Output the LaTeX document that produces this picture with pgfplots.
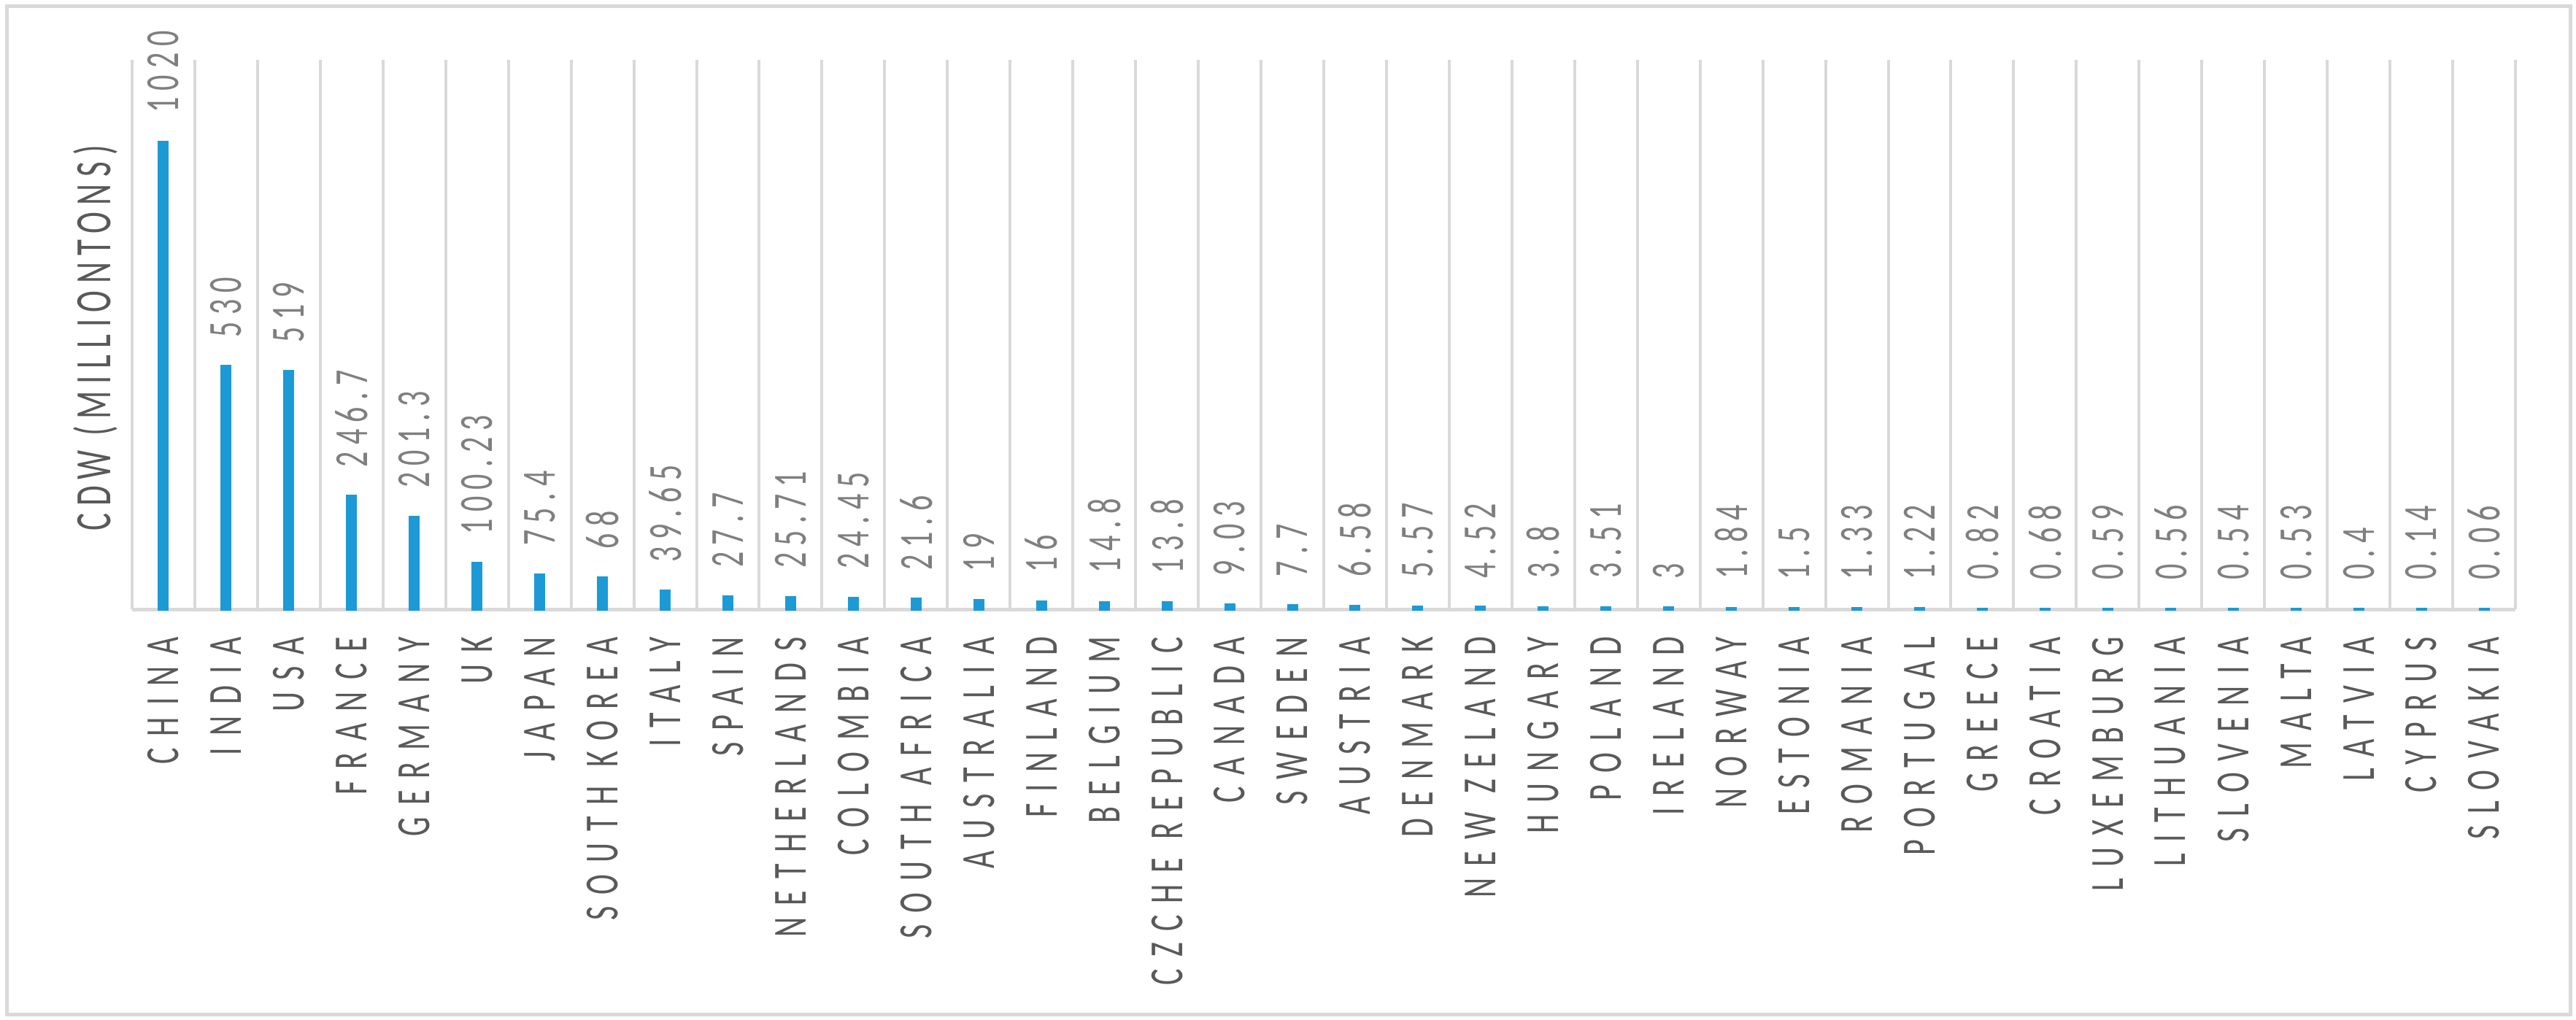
\documentclass[border=0pt]{standalone}
\usepackage{pgfplots}
\pgfplotsset{compat=1.18}
\usepackage{fontspec}
\setmainfont{Carlito}
\newfontfamily\catfont{Carlito}[LetterSpace=38]
\newfontfamily\datfont{Carlito}[LetterSpace=22]
\newfontfamily\labfont{Carlito}[LetterSpace=21]
\definecolor{barblue}{HTML}{1C9AD6}
\definecolor{gridgray}{HTML}{D9D9D9}
\definecolor{txtgray}{HTML}{595959}
\definecolor{numgray}{HTML}{7F7F7F}
% the source picture is stretched sideways, so rotated text looks tall
\newcommand\lb[1]{\scalebox{1}[1.55]{#1}}

\begin{document}
\begin{tikzpicture}
\useasboundingbox (-36.2pt,-112.4pt) rectangle (669.8pt,167pt);
\draw[gridgray, line width=1pt] (-34.2pt,-111pt) rectangle (668.2pt,165.4pt);
\begin{axis}[
  scale only axis,
  width=653.2pt, height=150.6pt,
  xmin=-0.5, xmax=37.5,
  ymin=0, ymax=1200,
  clip=false,
  axis x line*=bottom,
  axis y line=none,
  x axis line style={draw=gridgray, line width=1pt, -},
  ytick=\empty,
  xtick={0,...,37},
  xticklabels={\lb{CHINA},\lb{INDIA},\lb{USA},\lb{FRANCE},\lb{GERMANY},\lb{UK},\lb{JAPAN},
    \lb{SOUTH KOREA},\lb{ITALY},\lb{SPAIN},\lb{NETHERLANDS},\lb{COLOMBIA},\lb{SOUTH AFRICA},
    \lb{AUSTRALIA},\lb{FINLAND},\lb{BELGIUM},\lb{CZCHE REPUBLIC},\lb{CANADA},\lb{SWEDEN},
    \lb{AUSTRIA},\lb{DENMARK},\lb{NEW ZELAND},\lb{HUNGARY},\lb{POLAND},\lb{IRELAND},
    \lb{NORWAY},\lb{ESTONIA},\lb{ROMANIA},\lb{PORTUGAL},\lb{GREECE},\lb{CROATIA},
    \lb{LUXEMBURG},\lb{LITHUANIA},\lb{SLOVENIA},\lb{MALTA},\lb{LATVIA},\lb{CYPRUS},\lb{SLOVAKIA}},
  major tick length=0pt,
  minor tick length=0pt,
  minor xtick={-0.5,0.5,...,37.5},
  xminorgrids=true,
  minor grid style={draw=gridgray, line width=0.8pt},
  xticklabel style={font=\catfont\fontsize{8.4}{10}\selectfont, text=txtgray,
    rotate=90, anchor=east, inner sep=0pt},
  xticklabel shift=7.4pt,
  ybar, bar width=2.2pt,
  point meta=explicit symbolic,
  nodes near coords={\lb{\pgfplotspointmeta}},
  every node near coord/.append style={font=\datfont\fontsize{8.4}{10}\selectfont,
    text=numgray, rotate=90, anchor=west, inner xsep=7.6pt, inner ysep=0pt},
]
\addplot[draw=barblue, fill=barblue, line width=0.8pt] coordinates {
  (0,1020) [1020]
  (1,530) [530]
  (2,519) [519]
  (3,246.7) [246.7]
  (4,201.3) [201.3]
  (5,100.23) [100.23]
  (6,75.4) [75.4]
  (7,68) [68]
  (8,39.65) [39.65]
  (9,27.7) [27.7]
  (10,25.71) [25.71]
  (11,24.45) [24.45]
  (12,21.6) [21.6]
  (13,19) [19]
  (14,16) [16]
  (15,14.8) [14.8]
  (16,13.8) [13.8]
  (17,9.03) [9.03]
  (18,7.7) [7.7]
  (19,6.58) [6.58]
  (20,5.57) [5.57]
  (21,4.52) [4.52]
  (22,3.8) [3.8]
  (23,3.51) [3.51]
  (24,3) [3]
  (25,1.84) [1.84]
  (26,1.5) [1.5]
  (27,1.33) [1.33]
  (28,1.22) [1.22]
  (29,0.82) [0.82]
  (30,0.68) [0.68]
  (31,0.59) [0.59]
  (32,0.56) [0.56]
  (33,0.54) [0.54]
  (34,0.53) [0.53]
  (35,0.4) [0.4]
  (36,0.14) [0.14]
  (37,0.06) [0.06]
};
\end{axis}
\node[rotate=90, inner sep=0pt, text=txtgray, font=\labfont\fontsize{9}{11}\selectfont]
  at (-10pt,74.4pt) {\lb{CDW (MILLIONTONS)}};
\end{tikzpicture}
\end{document}
